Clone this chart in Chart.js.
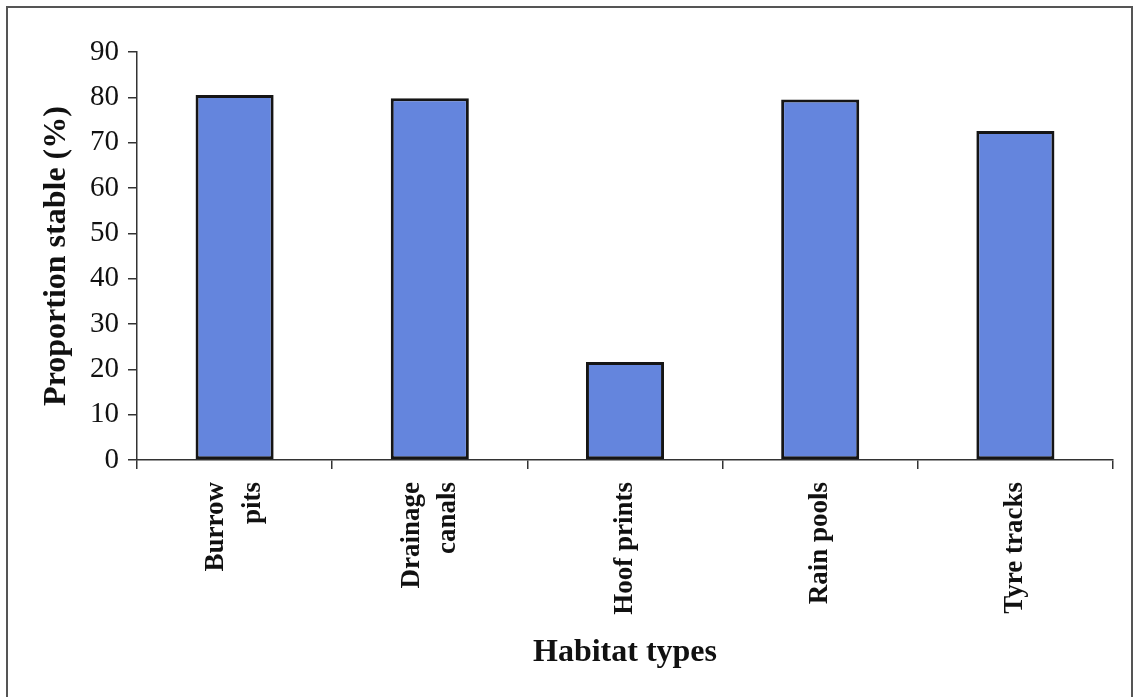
<!DOCTYPE html>
<html lang="en">
<head>
    <meta charset="UTF-8">
    <title>Proportion stable by habitat type</title>
    <script src="https://cdn.jsdelivr.net/npm/chart.js"></script>
    <style>
        body { margin: 0; background: #fff; }
        .frame {
            position: absolute;
            left: 6px; top: 6px;
            width: 1123px; height: 690px;
            border: 2px solid #555;
            border-bottom-color: #bbb;
        }
        canvas { position: absolute; left: 0; top: 0; }
    </style>
</head>
<body>
<div class="frame"></div>
<canvas id="habitatChart" width="1138" height="697"></canvas>

<script>
    const habitats = [["Burrow", "pits"], ["Drainage", "canals"], "Hoof prints", "Rain pools", "Tyre tracks"];
    const proportionStable = [80.5, 79.8, 21.6, 79.5, 72.6];
    const yTicks = [0, 10, 20, 30, 40, 50, 60, 70, 80, 90];

    // two-line labels: center the pair on the tick instead of starting at it
    const centerMultiLine = {
        id: 'centerMultiLine',
        beforeDraw(chart) {
            const scale = chart.scales.x;
            const items = scale.getLabelItems();
            if (items._shifted) return;
            items.forEach(it => {
                if (Array.isArray(it.label)) {
                    it.options.translation[0] -= it.font.lineHeight * (it.label.length - 1) / 2;
                }
            });
            items._shifted = true;
        }
    };

    const ctx = document.getElementById('habitatChart').getContext('2d');
    new Chart(ctx, {
        type: 'bar',
        data: {
            labels: habitats,
            datasets: [{
                data: proportionStable,
                backgroundColor: '#6485dd',
                borderColor: '#151515',
                borderWidth: 3,
                borderSkipped: false,
                categoryPercentage: 1,
                barPercentage: 0.4
            }]
        },
        options: {
            responsive: false,
            animation: false,
            layout: { padding: { left: 20, top: 52, right: 25, bottom: 0 } },
            plugins: { legend: { display: false }, tooltip: { enabled: false } },
            scales: {
                y: {
                    min: 0, max: 90,
                    afterBuildTicks: s => { s.ticks = yTicks.map(v => ({ value: v })); },
                    afterFit: s => { s.width = 117; },
                    border: { display: true, color: '#333', width: 1.5 },
                    grid: { drawOnChartArea: false, tickLength: 9, color: '#333', lineWidth: 1.5 },
                    ticks: {
                        color: '#111', padding: 9,
                        font: { family: 'Liberation Serif', size: 29 }
                    },
                    title: {
                        display: true, text: 'Proportion stable (%)', color: '#111',
                        padding: { top: 18, bottom: 0 },
                        font: { family: 'Liberation Serif', size: 32, weight: 'bold' }
                    }
                },
                x: {
                    afterFit: s => { s.height = 237; },
                    border: { display: true, color: '#333', width: 1.5 },
                    grid: { drawOnChartArea: false, tickLength: 9, color: '#333', lineWidth: 1.5, offset: true },
                    ticks: {
                        color: '#111', padding: 13, minRotation: 90, maxRotation: 90,
                        font: { family: 'Liberation Serif', size: 27, weight: 'bold', lineHeight: 1.35 }
                    },
                    title: {
                        display: true, text: 'Habitat types', color: '#111',
                        padding: { top: 0, bottom: 25 },
                        font: { family: 'Liberation Serif', size: 32, weight: 'bold' }
                    }
                }
            }
        },
        plugins: [centerMultiLine]
    });
</script>
</body>
</html>
